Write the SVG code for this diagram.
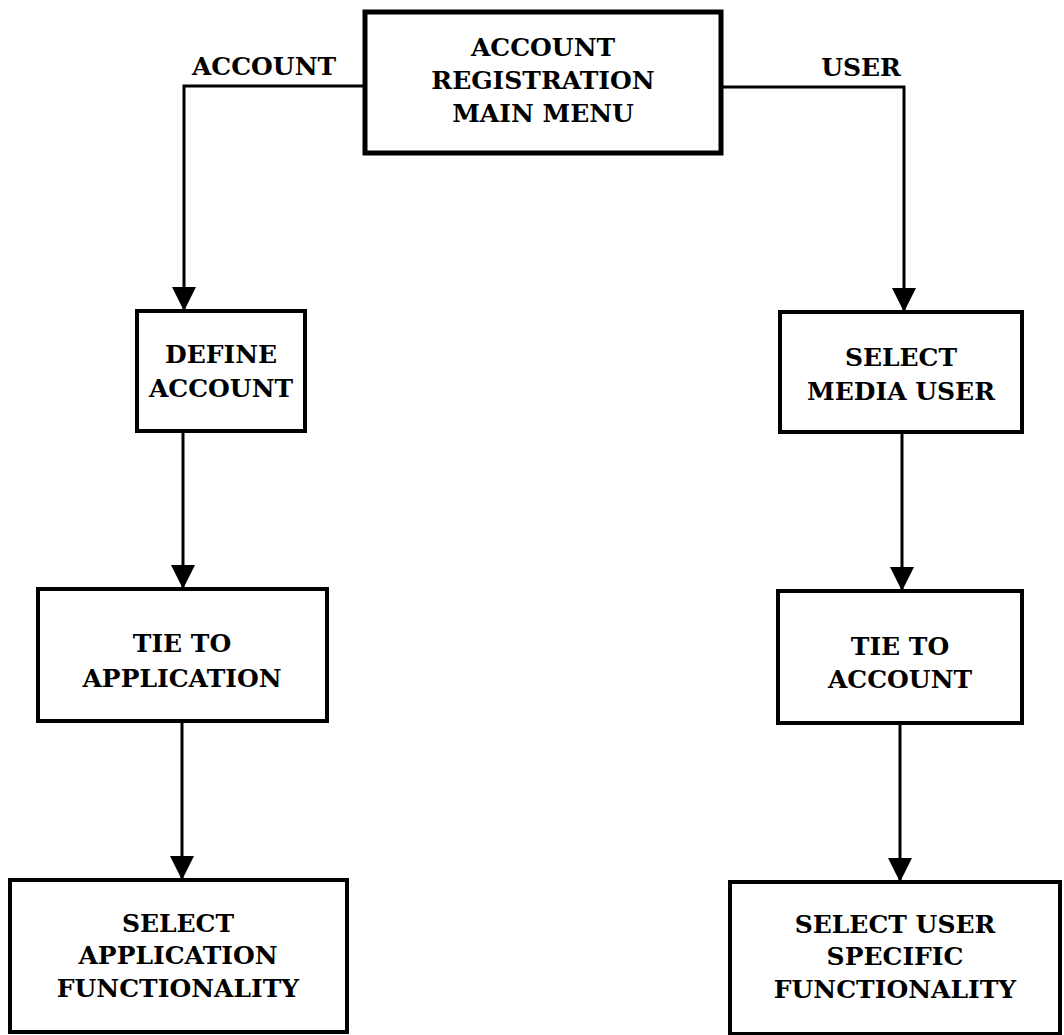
<svg xmlns="http://www.w3.org/2000/svg" width="1064" height="1035" viewBox="0 0 1064 1035">
<style>
.box{fill:#fff;stroke:#000;stroke-width:4}
.t{font-family:"DejaVu Serif","Liberation Serif",serif;font-weight:bold;font-size:25px;text-anchor:middle;fill:#000}
.c{fill:none;stroke:#000;stroke-width:3}
</style>
<defs>
<marker id="ah" viewBox="0 0 24 24" refX="24" refY="12" markerWidth="24" markerHeight="24" markerUnits="userSpaceOnUse" orient="auto">
<path d="M0,0 L24,12 L0,24 z" fill="#000"/>
</marker>
</defs>
<rect width="1064" height="1035" fill="#fff"/>
<g id="connectors">
<path class="c" d="M365,86 H184 V311" marker-end="url(#ah)"/>
<path class="c" d="M721,87 H904 V312" marker-end="url(#ah)"/>
<path class="c" d="M183,431 V589" marker-end="url(#ah)"/>
<path class="c" d="M182,721 V880" marker-end="url(#ah)"/>
<path class="c" d="M902,432 V591" marker-end="url(#ah)"/>
<path class="c" d="M900,723 V882" marker-end="url(#ah)"/>
<text class="t" x="264" y="75">ACCOUNT</text>
<text class="t" x="861" y="76">USER</text>
</g>
<g id="main-menu">
<rect class="box" x="365" y="12" width="356" height="141" style="stroke-width:5"/>
<text class="t" x="543" y="56">ACCOUNT</text>
<text class="t" x="543" y="89">REGISTRATION</text>
<text class="t" x="543" y="122">MAIN MENU</text>
</g>
<g id="define-account">
<rect class="box" x="137" y="311" width="168" height="120"/>
<text class="t" x="221" y="363">DEFINE</text>
<text class="t" x="221" y="397">ACCOUNT</text>
</g>
<g id="select-media-user">
<rect class="box" x="780" y="312" width="242" height="120"/>
<text class="t" x="901" y="366">SELECT</text>
<text class="t" x="901" y="400">MEDIA USER</text>
</g>
<g id="tie-to-application">
<rect class="box" x="38" y="589" width="289" height="132"/>
<text class="t" x="182" y="652">TIE TO</text>
<text class="t" x="182" y="687">APPLICATION</text>
</g>
<g id="tie-to-account">
<rect class="box" x="778" y="591" width="244" height="132"/>
<text class="t" x="900" y="655">TIE TO</text>
<text class="t" x="900" y="688">ACCOUNT</text>
</g>
<g id="select-application-functionality">
<rect class="box" x="10" y="880" width="337" height="152"/>
<text class="t" x="178" y="932">SELECT</text>
<text class="t" x="178" y="964">APPLICATION</text>
<text class="t" x="178" y="997">FUNCTIONALITY</text>
</g>
<g id="select-user-specific-functionality">
<rect class="box" x="730" y="882" width="330" height="152"/>
<text class="t" x="895" y="933">SELECT USER</text>
<text class="t" x="895" y="965">SPECIFIC</text>
<text class="t" x="895" y="998">FUNCTIONALITY</text>
</g>
</svg>
